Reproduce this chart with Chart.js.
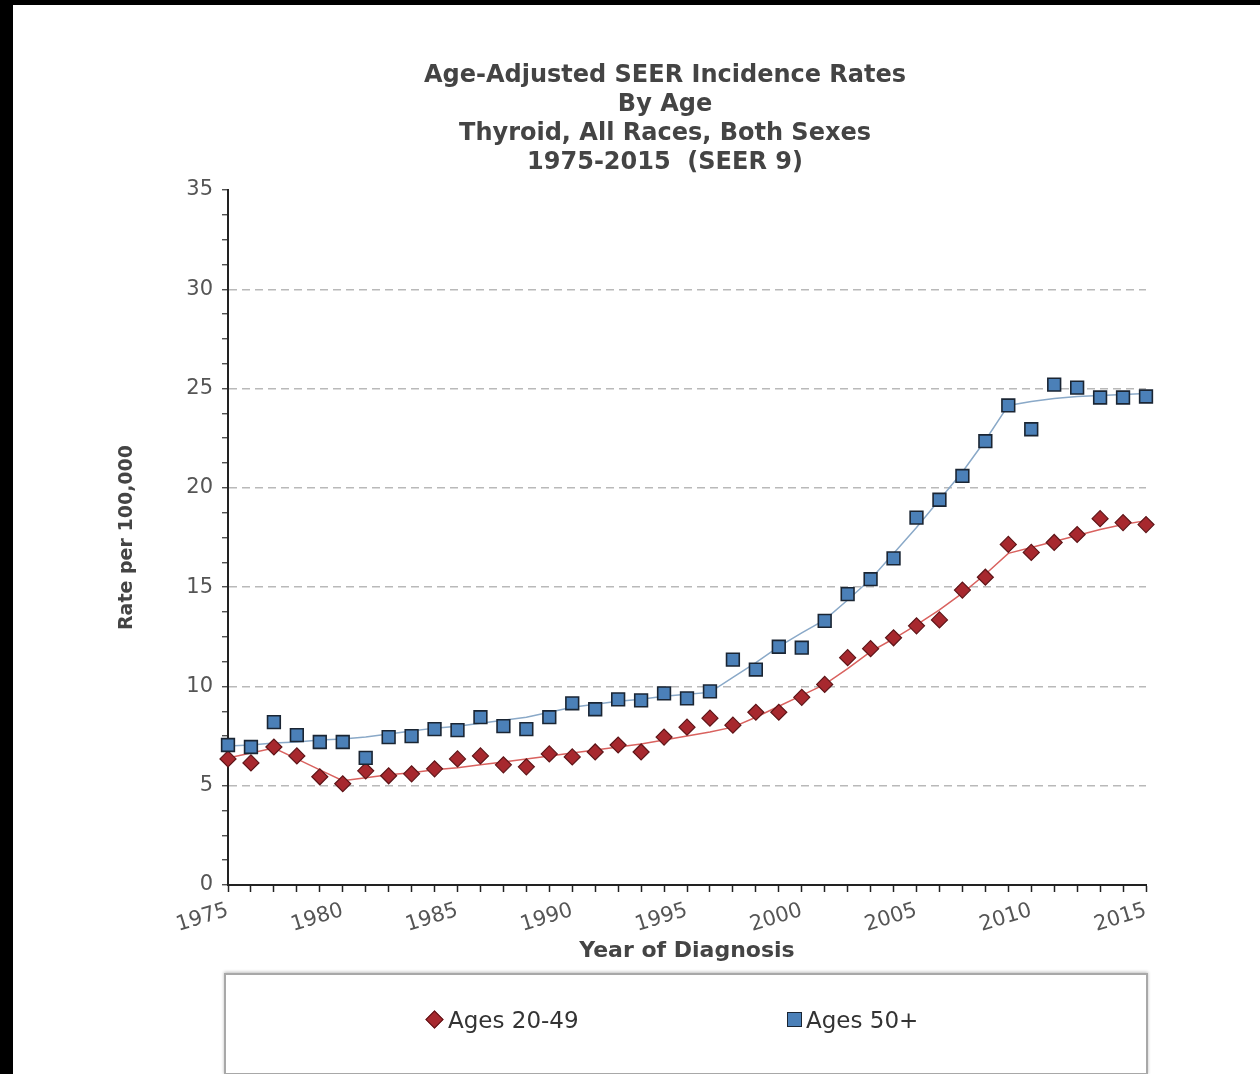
<!DOCTYPE html>
<html>
<head>
<meta charset="utf-8">
<title>Age-Adjusted SEER Incidence Rates - Thyroid</title>
<script src="https://cdn.jsdelivr.net/npm/chart.js@4/dist/chart.umd.min.js"></script>
<style>
  html, body { margin: 0; padding: 0; background: #fff; }
  body { width: 1260px; height: 1074px; position: relative; overflow: hidden; font-family: "DejaVu Sans", sans-serif; }
  .edge-left { position: absolute; left: 0; top: 0; width: 13px; height: 1074px; background: #000; }
  .edge-top { position: absolute; left: 0; top: 0; width: 1260px; height: 5px; background: #000; }
  #chartWrap { position: absolute; left: 0; top: 0; width: 1260px; height: 1074px; }
  .legend-frame {
    position: absolute; left: 224px; top: 973px; width: 920px; height: 98px;
    border: 2px solid #a8a8a8; box-shadow: 0 -1px 3px rgba(0,0,0,0.25);
  }
  .legend-item { position: absolute; top: 31px; font-size: 23px; color: #333; line-height: 28px; }
  .legend-item .mark { position: absolute; box-sizing: border-box; }
  .mark.diamond { width: 13px; height: 13px; left: -20px; top: 7px; background: #a7282e; border: 1px solid #5e1518; transform: rotate(45deg); }
  .mark.square { width: 15px; height: 15px; left: -19px; top: 6px; background: #4b80b8; border: 1.5px solid #1a2533; }
</style>
</head>
<body>
<div class="edge-left"></div>
<div class="edge-top"></div>
<div id="chartWrap"><canvas id="seerChart" width="1260" height="1074"></canvas></div>
<div class="legend-frame">
  <div class="legend-item" style="left:222px"><span class="mark diamond"></span>Ages 20-49</div>
  <div class="legend-item" style="left:580px"><span class="mark square"></span>Ages 50+</div>
</div>
<script>
"use strict";

// Year of diagnosis
const years = [
  "1975", "1976", "1977", "1978", "1979", "1980", "1981", "1982", "1983", "1984",
  "1985", "1986", "1987", "1988", "1989", "1990", "1991", "1992", "1993", "1994",
  "1995", "1996", "1997", "1998", "1999", "2000", "2001", "2002", "2003", "2004",
  "2005", "2006", "2007", "2008", "2009", "2010", "2011", "2012", "2013", "2014",
  "2015"
];

const ages2049 = [
  6.35, 6.15, 6.95, 6.5, 5.45, 5.1, 5.75, 5.5, 5.6, 5.85,
  6.35, 6.5, 6.05, 5.95, 6.6, 6.45, 6.7, 7.05, 6.7, 7.45,
  7.95, 8.4, 8.05, 8.7, 8.7, 9.45, 10.1, 11.45, 11.9, 12.45,
  13.05, 13.35, 14.85, 15.5, 17.15, 16.75, 17.25, 17.65, 18.45, 18.25,
  18.15
];
const ages50 = [
  7.05, 6.95, 8.2, 7.55, 7.2, 7.2, 6.4, 7.45, 7.5, 7.85,
  7.8, 8.45, 8.0, 7.85, 8.45, 9.15, 8.85, 9.35, 9.3, 9.65,
  9.4, 9.75, 11.35, 10.85, 12.0, 11.95, 13.3, 14.65, 15.4, 16.45,
  18.5, 19.4, 20.6, 22.35, 24.15, 22.95, 25.2, 25.05, 24.55, 24.55,
  24.6
];

// Joinpoint trend lines
const ages2049Trend = [
  6.4, 6.65, 6.9, 6.35, 5.8, 5.25, 5.4, 5.55, 5.65, 5.8,
  5.9, 6.05, 6.2, 6.35, 6.5, 6.65, 6.8, 6.95, 7.1, 7.3,
  7.5, 7.7, 7.95, 8.45, 9.0, 9.55, 10.1, 10.9, 11.75, 12.4,
  13.1, 13.85, 14.7, 15.65, 16.7, 17.0, 17.3, 17.6, 17.9, 18.15,
  18.35
];
const ages50Trend = [
  7.0, 7.05, 7.15, 7.2, 7.3, 7.35, 7.45, 7.6, 7.75, 7.9,
  8.0, 8.15, 8.3, 8.45, 8.7, 8.95, 9.1, 9.25, 9.35, 9.5,
  9.6, 9.7, 10.45, 11.2, 12.0, 12.7, 13.35, 14.35, 15.4, 16.7,
  18.0, 19.4, 20.8, 22.4, 24.15, 24.35, 24.5, 24.6, 24.65, 24.7,
  24.75
];

const titleLines = [
  "Age-Adjusted SEER Incidence Rates",
  "By Age",
  "Thyroid, All Races, Both Sexes",
  "1975-2015  (SEER 9)"
];

// y axis: labelled every 5, small tick marks every 1.25
const yMax = 35;
const yMajorStep = 5;
const yMinorStep = 1.25;

const FONT = "'DejaVu Sans', sans-serif";
Chart.defaults.font.family = FONT;

const ctx = document.getElementById("seerChart").getContext("2d");
const seerChart = new Chart(ctx, {
  type: "line",
  data: {
    labels: years,
    datasets: [
      {
        label: "Ages 20-49",
        data: ages2049,
        yAxisID: "y",
        showLine: false,
        pointStyle: "rectRot",
        pointRadius: 8,
        backgroundColor: "#a7282e",
        borderColor: "#5e1518",
        borderWidth: 1.2,
        order: 2
      },
      {
        label: "Ages 50+",
        data: ages50,
        yAxisID: "y",
        showLine: false,
        pointStyle: "rect",
        pointRadius: 9,
        backgroundColor: "#4b80b8",
        borderColor: "#1a2533",
        borderWidth: 1.6,
        order: 1
      },
      {
        label: "Ages 20-49 trend",
        data: ages2049Trend,
        yAxisID: "y",
        borderColor: "#d9625f",
        borderWidth: 1.5,
        pointRadius: 0,
        tension: 0,
        order: 4
      },
      {
        label: "Ages 50+ trend",
        data: ages50Trend,
        yAxisID: "y",
        borderColor: "#8aa9c8",
        borderWidth: 1.5,
        pointRadius: 0,
        tension: 0,
        order: 3
      }
    ]
  },
  options: {
    responsive: false,
    animation: false,
    devicePixelRatio: 1,
    layout: { padding: { left: 70, right: 0, top: 0, bottom: 110 } },
    plugins: {
      legend: { display: false },
      tooltip: { enabled: false },
      title: {
        display: true,
        text: titleLines,
        color: "#444",
        font: { size: 24, weight: "bold", lineHeight: "29px" },
        padding: { top: 61, bottom: 13 }
      }
    },
    scales: {
      x: {
        type: "category",
        offset: false,
        grid: {
          drawOnChartArea: false,
          drawTicks: true,
          tickLength: 7,
          tickColor: "#222",
          tickWidth: 1.5
        },
        border: { display: true, color: "#222", width: 2 },
        ticks: {
          autoSkip: false,
          minRotation: 17,
          maxRotation: 17,
          padding: 6,
          color: "#555",
          font: { size: 21 },
          callback(value) {
            const label = this.getLabelForValue(value);
            return Number(label) % 5 === 0 ? label : "";
          }
        },
        title: {
          display: true,
          text: "Year of Diagnosis",
          color: "#444",
          font: { size: 22, weight: "bold" },
          padding: { top: 0, bottom: 0 }
        },
        afterFit(scale) { scale.height = 79; }
      },
      y: {
        position: "left",
        min: 0,
        max: yMax,
        afterBuildTicks(scale) {
          const ticks = [];
          for (let v = 0; v <= yMax; v += yMinorStep) ticks.push({ value: v });
          scale.ticks = ticks;
        },
        grid: {
          color: (c) => {
            const v = c.tick ? c.tick.value : 0;
            return (v % yMajorStep === 0 && v > 0 && v < yMax) ? "#b9b9b9" : "rgba(0,0,0,0)";
          },
          lineWidth: 1.5,
          drawTicks: true,
          tickLength: 6,
          tickColor: "#333",
          tickWidth: 1.2,
          tickBorderDash: []
        },
        border: { display: true, color: "#222", width: 2, dash: [8, 5] },
        ticks: {
          autoSkip: false,
          padding: 9,
          color: "#555",
          font: { size: 21 },
          callback: (v) => (v % yMajorStep === 0 ? String(v) : "")
        },
        title: {
          display: true,
          text: "Rate per 100,000",
          color: "#444",
          font: { size: 19, weight: "bold" },
          padding: { top: 46, bottom: 0 }
        },
        afterFit(scale) { scale.width = 158; }
      },
      // empty right-hand axis that only reserves space so the plot ends at the right spot
      yRight: {
        position: "right",
        display: true,
        grid: { display: false },
        border: { display: false },
        ticks: { display: false },
        afterFit(scale) { scale.width = 114; }
      }
    }
  }
});
</script>
</body>
</html>
